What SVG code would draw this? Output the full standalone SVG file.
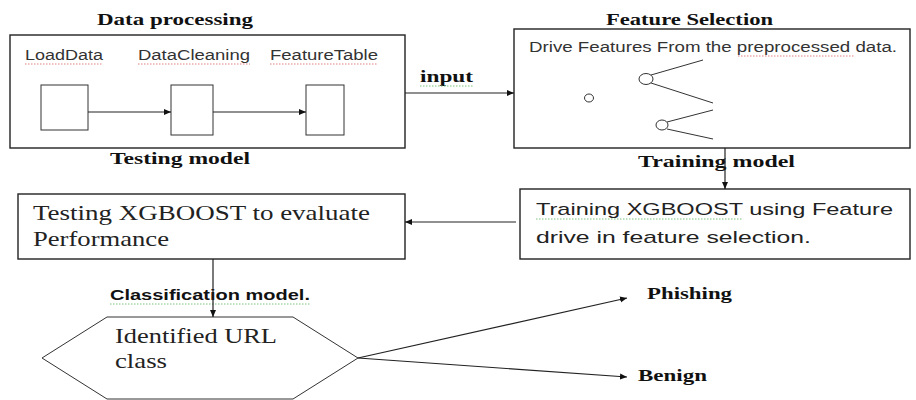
<svg xmlns="http://www.w3.org/2000/svg" width="916" height="400" viewBox="0 0 916 400">
<style>
.box{fill:#fff;stroke:#222;stroke-width:1.4}
.ln{fill:none;stroke:#222;stroke-width:1.2}
.thin{fill:none;stroke:#333;stroke-width:1}
.tb{font-family:"Liberation Serif",serif;font-weight:bold;font-size:17px;fill:#111}
.ts{font-family:"Liberation Sans",sans-serif;font-size:14px;fill:#333}
.tsb{font-family:"Liberation Sans",sans-serif;font-weight:bold;font-size:14px;fill:#111}
.tr{font-family:"Liberation Serif",serif;font-size:22px;fill:#222}
.tm{font-family:"Liberation Sans",sans-serif;font-size:17px;fill:#222}
.red{fill:none;stroke:#e08080;stroke-width:1;stroke-dasharray:1.5 1.5}
.grn{fill:none;stroke:#7cc27c;stroke-width:1;stroke-dasharray:1.5 1.5}
</style>
<defs>
<marker id="ah" markerWidth="8" markerHeight="8" refX="7" refY="4" orient="auto" markerUnits="userSpaceOnUse">
<path d="M0,1 L7,4 L0,7 Z" fill="#111"/>
</marker>
</defs>
<rect width="916" height="400" fill="#fff"/>

<g id="data-processing">
<text class="tb" x="97" y="25" textLength="156" lengthAdjust="spacingAndGlyphs">Data processing</text>
<rect class="box" x="10" y="35" width="395" height="113"/>
<text class="ts" x="25" y="60" textLength="78" lengthAdjust="spacingAndGlyphs">LoadData</text>
<path class="red" d="M25,64 H103"/>
<text class="ts" x="138" y="60" textLength="112" lengthAdjust="spacingAndGlyphs">DataCleaning</text>
<path class="red" d="M138,64 H250"/>
<text class="ts" x="270" y="60" textLength="108" lengthAdjust="spacingAndGlyphs">FeatureTable</text>
<path class="red" d="M270,64 H378"/>
<g id="load-data"><rect class="thin" x="41" y="85" width="47" height="45"/></g>
<g id="data-cleaning"><rect class="thin" x="171" y="85" width="42" height="50"/></g>
<g id="feature-table"><rect class="thin" x="306" y="85" width="38" height="50"/></g>
<text class="tb" x="110" y="164" textLength="140" lengthAdjust="spacingAndGlyphs">Testing model</text>
</g>

<g id="feature-selection">
<text class="tb" x="606" y="25" textLength="167" lengthAdjust="spacingAndGlyphs">Feature Selection</text>
<rect class="box" x="514" y="29" width="396" height="119"/>
<text class="ts" x="529" y="52" textLength="368" lengthAdjust="spacingAndGlyphs">Drive Features From the preprocessed data.</text>
<path class="red" d="M738,56 H854"/>
<ellipse class="thin" cx="589" cy="98" rx="4.5" ry="4"/>
<ellipse class="thin" cx="646" cy="79" rx="7" ry="5.5"/>
<path class="thin" d="M651,75 L703,60 M651,83 L713,103"/>
<ellipse class="thin" cx="662" cy="125" rx="6" ry="5"/>
<path class="thin" d="M667,122 L713,110 M667,129 L713,139"/>
<text class="tb" x="638" y="167" textLength="157" lengthAdjust="spacingAndGlyphs">Training model</text>
</g>

<g id="training">
<rect class="box" x="520" y="189" width="390" height="70"/>
<text class="tm" x="536" y="215" textLength="357" lengthAdjust="spacingAndGlyphs">Training  XGBOOST using Feature</text>
<path class="grn" d="M536,219 H743"/>
<text class="tm" x="536" y="243" textLength="275" lengthAdjust="spacingAndGlyphs">drive in feature selection.</text>
</g>

<g id="testing">
<rect class="box" x="18" y="194" width="387" height="65"/>
<text class="tr" x="33" y="220" textLength="337" lengthAdjust="spacingAndGlyphs">Testing XGBOOST to evaluate</text>
<text class="tr" x="33" y="246" textLength="136" lengthAdjust="spacingAndGlyphs">Performance</text>
</g>

<g id="identified-url">
<text class="tsb" x="110" y="300" textLength="200" lengthAdjust="spacingAndGlyphs">Classification model.</text>
<path class="grn" d="M110,304 H310"/>
<polygon class="thin" points="107,317 293,317 358,358 293,399 107,399 42,358"/>
<text class="tr" x="115" y="343" textLength="162" lengthAdjust="spacingAndGlyphs">Identified URL</text>
<text class="tr" x="115" y="368" textLength="52" lengthAdjust="spacingAndGlyphs">class</text>
</g>

<g id="phishing"><text class="tb" x="647" y="299" font-size="16" textLength="85" lengthAdjust="spacingAndGlyphs">Phishing</text></g>
<g id="benign"><text class="tb" x="638" y="381" font-size="16" textLength="69" lengthAdjust="spacingAndGlyphs">Benign</text></g>

<g id="connectors">
<path class="ln" d="M88,112 H171" marker-end="url(#ah)"/>
<path class="ln" d="M213,112 H306" marker-end="url(#ah)"/>
<text class="tb" x="420" y="82" font-size="16" textLength="53" lengthAdjust="spacingAndGlyphs">input</text>
<path class="grn" d="M420,86 H473"/>
<path class="ln" d="M405,93 H514" marker-end="url(#ah)"/>
<path class="ln" d="M725,148 V189" marker-end="url(#ah)"/>
<path class="ln" d="M516,222 H405" marker-end="url(#ah)"/>
<path class="ln" d="M213,259 V317" marker-end="url(#ah)"/>
<path class="ln" d="M358,358 L627,298" marker-end="url(#ah)"/>
<path class="ln" d="M358,358 L627,377" marker-end="url(#ah)"/>
</g>
</svg>
